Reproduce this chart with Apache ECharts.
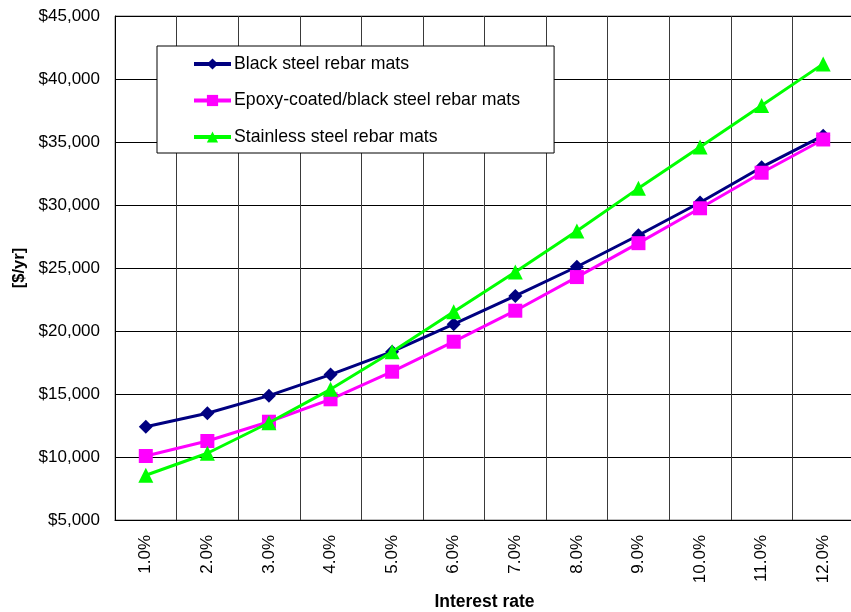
<!DOCTYPE html>
<html>
<head>
<meta charset="utf-8">
<script src="https://cdn.jsdelivr.net/npm/echarts@6/dist/echarts.min.js"></script>
<style>
  html, body { margin: 0; padding: 0; background: #fff; }
  #chart { width: 851px; height: 612px; }
</style>
</head>
<body>
<div id="chart"></div>
<script>
// Interest-rate categories
var rates = ['1.0%', '2.0%', '3.0%', '4.0%', '5.0%', '6.0%', '7.0%', '8.0%', '9.0%', '10.0%', '11.0%', '12.0%'];

// Annualized cost [$/yr] for each rebar option
var blackSteel = [12400, 13470, 14870, 16540, 18360, 20540, 22780, 25100, 27600, 30200, 33000, 35500];
var epoxyCoated = [10080, 11270, 12800, 14580, 16770, 19150, 21610, 24280, 26970, 29740, 32560, 35200];
var stainless = [8550, 10300, 12720, 15370, 18360, 21530, 24680, 27940, 31320, 34600, 37900, 41200];

var seriesNames = ['Black steel rebar mats', 'Epoxy-coated/black steel rebar mats', 'Stainless steel rebar mats'];

var FONT = '"Liberation Sans", Arial, sans-serif';

var chart = echarts.init(document.getElementById('chart'), null, { renderer: 'canvas' });

function money(v) {
  return '$' + v.toLocaleString('en-US');
}

chart.setOption({
  animation: false,
  backgroundColor: '#ffffff',
  grid: { left: 115, top: 16, right: -3, bottom: 92, containLabel: false, outerBoundsMode: 'none',
          show: true, borderColor: '#808080', borderWidth: 1 },
  legend: {
    orient: 'vertical',
    left: 157,
    top: 46,
    padding: [8, 34, 6, 35],
    backgroundColor: '#ffffff',
    borderColor: '#000000',
    borderWidth: 1,
    itemWidth: 37,
    itemHeight: 14,
    itemGap: 16.5,
    lineStyle: { width: 4 },
    textStyle: { fontFamily: FONT, fontSize: 17.7, color: '#000', padding: [0, 0, 0, -2], lineHeight: 20 },
    data: seriesNames
  },
  xAxis: {
    type: 'category',
    data: rates,
    boundaryGap: true,
    name: 'Interest rate',
    nameLocation: 'middle',
    nameGap: 73,
    nameTextStyle: { fontFamily: FONT, fontSize: 17.5, fontWeight: 'bold', color: '#000' },
    axisLine: { show: true, lineStyle: { color: '#000', width: 1 } },
    axisTick: { show: false },
    axisLabel: { rotate: 90, margin: 15, fontFamily: FONT, fontSize: 17, color: '#000' },
    splitLine: { show: true, lineStyle: { color: '#3a3a3a', width: 1 } }
  },
  yAxis: {
    type: 'value',
    min: 5000,
    max: 45000,
    interval: 5000,
    name: '[$/yr]',
    nameLocation: 'middle',
    nameGap: 86,
    nameRotate: 90,
    nameTextStyle: { fontFamily: FONT, fontSize: 16.5, fontWeight: 'bold', color: '#000' },
    axisLine: { show: true, lineStyle: { color: '#000', width: 1 } },
    axisTick: { show: false },
    axisLabel: { margin: 15, fontFamily: FONT, fontSize: 17, color: '#000', formatter: money },
    splitLine: { show: true, lineStyle: { color: '#000', width: 1 } }
  },
  series: [
    {
      name: seriesNames[0],
      type: 'line',
      data: blackSteel,
      symbol: 'diamond',
      symbolSize: 14,
      lineStyle: { color: '#000080', width: 3 },
      itemStyle: { color: '#000080' },
      z: 3
    },
    {
      name: seriesNames[1],
      type: 'line',
      data: epoxyCoated,
      symbol: 'rect',
      symbolSize: 14,
      lineStyle: { color: '#ff00ff', width: 3 },
      itemStyle: { color: '#ff00ff' },
      z: 4
    },
    {
      name: seriesNames[2],
      type: 'line',
      data: stainless,
      symbol: 'triangle',
      symbolSize: 15,
      lineStyle: { color: '#00ff00', width: 3 },
      itemStyle: { color: '#00ff00' },
      z: 5
    }
  ]
});
</script>
</body>
</html>
